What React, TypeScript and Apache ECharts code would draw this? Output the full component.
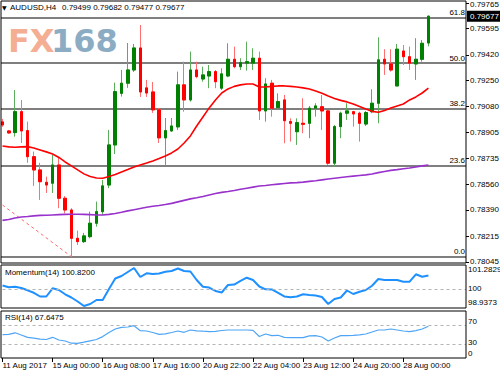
import React, { useEffect, useRef } from 'react';
import * as echarts from 'echarts';

// ---------- data ----------
const symbolName = 'AUDUSD,H4';
const xTickLabels = ['11 Aug 2017', '15 Aug 00:00', '16 Aug 08:00', '17 Aug 16:00', '20 Aug 22:00', '22 Aug 04:00', '23 Aug 12:00', '24 Aug 20:00', '28 Aug 00:00'];
const BARS_PER_LABEL = 8;
const TOTAL_SLOTS = 75; // bars + empty right shift of the chart

const opens = [0.78975, 0.78915, 0.78904, 0.79043, 0.78917, 0.78744, 0.78656, 0.78574, 0.78568, 0.78689, 0.78468, 0.7839, 0.78202, 0.7818, 0.78213, 0.78302, 0.78379, 0.78556, 0.78822, 0.79165, 0.79232, 0.7932, 0.79466, 0.79201, 0.79174, 0.79055, 0.78869, 0.78915, 0.78942, 0.79221, 0.79121, 0.7932, 0.7926, 0.7928, 0.79309, 0.79199, 0.7928, 0.79391, 0.79342, 0.79365, 0.79365, 0.79398, 0.79048, 0.79232, 0.7907, 0.79121, 0.78977, 0.7891, 0.78966, 0.78966, 0.79066, 0.79076, 0.79048, 0.78701, 0.78944, 0.79033, 0.79043, 0.79033, 0.78961, 0.79043, 0.79099, 0.79391, 0.7936, 0.79214, 0.79446, 0.79408, 0.7936, 0.79391, 0.79499];
const closes = [0.78955, 0.78902, 0.79043, 0.78915, 0.78744, 0.78656, 0.78578, 0.78556, 0.78689, 0.78468, 0.7839, 0.78202, 0.7818, 0.78218, 0.78302, 0.78379, 0.7855, 0.78822, 0.79176, 0.79232, 0.7932, 0.79466, 0.79174, 0.79167, 0.79055, 0.78869, 0.78917, 0.78948, 0.79221, 0.79121, 0.7932, 0.79276, 0.79287, 0.79309, 0.79242, 0.79294, 0.79391, 0.79342, 0.79369, 0.79375, 0.79398, 0.79048, 0.79227, 0.79066, 0.7911, 0.78983, 0.78966, 0.7897, 0.78959, 0.79066, 0.79081, 0.79048, 0.78701, 0.78944, 0.79033, 0.79048, 0.79028, 0.78966, 0.79037, 0.79099, 0.79387, 0.7936, 0.7932, 0.79458, 0.79408, 0.79365, 0.79391, 0.79497, 0.79677];
const highs = [0.78995, 0.78922, 0.79187, 0.79121, 0.78977, 0.78778, 0.78703, 0.78612, 0.78756, 0.78744, 0.78483, 0.78402, 0.78253, 0.78238, 0.78379, 0.78446, 0.7859, 0.78922, 0.79236, 0.7932, 0.79499, 0.79493, 0.79619, 0.79254, 0.7924, 0.79068, 0.79001, 0.79001, 0.79309, 0.79375, 0.79442, 0.79375, 0.79342, 0.79353, 0.7932, 0.79331, 0.79497, 0.79475, 0.79398, 0.79508, 0.79464, 0.79442, 0.79265, 0.79254, 0.79165, 0.79154, 0.78999, 0.78999, 0.79132, 0.79081, 0.79099, 0.79154, 0.79055, 0.78955, 0.79043, 0.79099, 0.79048, 0.79043, 0.79048, 0.79192, 0.79537, 0.79458, 0.79458, 0.79493, 0.79486, 0.79475, 0.79531, 0.79519, 0.79682];
const lows = [0.78942, 0.78895, 0.78877, 0.78835, 0.78703, 0.7855, 0.78457, 0.78503, 0.78503, 0.78402, 0.78368, 0.7808, 0.78158, 0.78171, 0.78202, 0.78279, 0.78357, 0.78535, 0.78762, 0.79143, 0.79201, 0.79307, 0.79141, 0.79141, 0.79035, 0.78835, 0.78689, 0.7891, 0.78922, 0.79043, 0.7911, 0.79265, 0.79242, 0.79199, 0.79199, 0.79187, 0.79272, 0.79331, 0.7932, 0.79316, 0.7932, 0.78988, 0.78977, 0.7901, 0.79055, 0.78833, 0.78844, 0.78822, 0.789, 0.78867, 0.7901, 0.78922, 0.78689, 0.78678, 0.78867, 0.78988, 0.78944, 0.78844, 0.78948, 0.79033, 0.78966, 0.79287, 0.79309, 0.79214, 0.79353, 0.7932, 0.79254, 0.79375, 0.79477];

const maRed = [0.78815, 0.78809, 0.78807, 0.78809, 0.78811, 0.78802, 0.78789, 0.78776, 0.78762, 0.78739, 0.78709, 0.78683, 0.78656, 0.7863, 0.78612, 0.78603, 0.78601, 0.78612, 0.78626, 0.78643, 0.78659, 0.78676, 0.78689, 0.78702, 0.78716, 0.78732, 0.78749, 0.78769, 0.78795, 0.78835, 0.78882, 0.78948, 0.79008, 0.79068, 0.79121, 0.79167, 0.79194, 0.79211, 0.79221, 0.79227, 0.79227, 0.79207, 0.79207, 0.79211, 0.79214, 0.79214, 0.79211, 0.79207, 0.79201, 0.79194, 0.79181, 0.79165, 0.79147, 0.79131, 0.79118, 0.79108, 0.79094, 0.79078, 0.79061, 0.79045, 0.79039, 0.79051, 0.79068, 0.79081, 0.79094, 0.79121, 0.79141, 0.79167, 0.79199];
const maPurple = [0.78321, 0.78327, 0.78337, 0.78344, 0.78347, 0.78351, 0.78354, 0.78355, 0.78357, 0.78359, 0.78361, 0.78362, 0.78362, 0.78361, 0.78359, 0.78357, 0.78357, 0.78361, 0.78367, 0.78375, 0.78384, 0.78392, 0.784, 0.78408, 0.78415, 0.7842, 0.78426, 0.78434, 0.78444, 0.78454, 0.78464, 0.78471, 0.7848, 0.7849, 0.78499, 0.78507, 0.78513, 0.7852, 0.78528, 0.78535, 0.78542, 0.78549, 0.78553, 0.78558, 0.78562, 0.78566, 0.7857, 0.78572, 0.78575, 0.7858, 0.78584, 0.7859, 0.78596, 0.78601, 0.78606, 0.78611, 0.78615, 0.78619, 0.78623, 0.78629, 0.78638, 0.78646, 0.78653, 0.78658, 0.78664, 0.78669, 0.78676, 0.78683, 0.78689];

const momentum = [100.203, 100.098, 100.129, 100.048, 99.906, 99.752, 99.524, 99.524, 100.03, 99.925, 99.66, 99.462, 99.215, 98.9373, 99.061, 99.308, 99.308, 99.987, 100.635, 100.789, 101.036, 101.2829, 100.727, 100.956, 100.913, 100.943, 101.048, 101.098, 101.252, 101.098, 101.067, 100.542, 100.129, 100.079, 99.863, 99.771, 100.234, 100.264, 100.481, 100.684, 100.542, 100.141, 99.968, 99.956, 99.74, 99.524, 99.474, 99.524, 99.66, 99.616, 99.585, 99.493, 99.061, 99.369, 99.462, 99.894, 99.678, 99.82, 99.925, 100.19, 100.604, 100.542, 100.542, 100.542, 100.437, 100.437, 100.894, 100.746, 100.82];
const rsi = [49.8, 50.4, 53.6, 48.9, 44.0, 42.3, 40.0, 39.4, 44.0, 38.3, 36.2, 31.5, 31.3, 33.6, 36.6, 39.4, 45.5, 54.3, 61.7, 65.3, 66.0, 68.7, 58.1, 57.5, 54.3, 50.4, 51.5, 54.3, 57.5, 54.7, 59.6, 57.9, 57.0, 56.2, 56.8, 58.5, 59.6, 59.6, 59.6, 59.6, 58.9, 45.8, 51.1, 47.5, 48.3, 44.0, 43.4, 43.2, 43.4, 47.2, 47.5, 44.7, 36.2, 42.6, 47.5, 47.5, 48.3, 49.4, 51.1, 55.3, 59.6, 59.6, 61.7, 59.6, 57.5, 56.0, 58.1, 61.7, 67.6475];

const priceTicks = [0.79765, 0.79595, 0.7942, 0.7925, 0.7908, 0.78905, 0.78735, 0.7856, 0.7839, 0.78215, 0.78045];
const priceRange = [0.78038, 0.79778];
const momentumTicks = [101.2829, 100, 98.9373];
const momentumRange = [98.8137, 101.468];
const momentumLevel = 100;
const rsiTicks = [100, 70, 30, 0];
const rsiLevels = [70, 30];
const fibLow = 0.7808;
const fibHigh = 0.8065;
const fibRatios = [0, 23.6, 38.2, 50, 61.8];
const trendStartPrice = 0.78423;
const trendEndIndex = 11;

// ---------- layout / style ----------
const FONT = '"Liberation Sans", Arial, sans-serif';
const FS = 8;
const PLOT_LEFT = 2.5;
const PLOT_RIGHT = 466;
const panes = [
  { top: 1, bottom: 263 },
  { top: 265, bottom: 308 },
  { top: 311, bottom: 358 },
];

export default function App() {
  const ref = useRef<HTMLDivElement>(null);

  useEffect(() => {
    if (!ref.current) return;
    const chart = echarts.init(ref.current, null, { renderer: 'svg' });

    const categories = Array.from({ length: TOTAL_SLOTS }, (_, i) => String(i));
    const isLabelIdx = (i: number) => i % BARS_PER_LABEL === 0 && i / BARS_PER_LABEL < xTickLabels.length;
    const n = opens.length;
    const fullCandles = opens.map((o, i) => [o, closes[i], lows[i], highs[i]]);
    const bodyOnly = opens.map((o, i) => [o, closes[i], Math.min(o, closes[i]), Math.max(o, closes[i])]);

    const baseText = { fontSize: FS, fontFamily: FONT, color: '#000' };

    const grids = panes.map((p) => ({
      left: PLOT_LEFT,
      top: p.top,
      width: PLOT_RIGHT - PLOT_LEFT,
      height: p.bottom - p.top,
      containLabel: false,
      outerBoundsMode: 'none',
    }));

    const xAxes = panes.map((_, gi) => ({
      type: 'category',
      gridIndex: gi,
      data: categories,
      boundaryGap: false,
      show: gi === 2,
      axisLine: { show: false },
      splitLine: { show: false },
      axisTick: {
        show: gi === 2,
        interval: (i: number) => isLabelIdx(i),
        length: 4,
        lineStyle: { color: '#000', width: 1 },
      },
      axisLabel: {
        show: gi === 2,
        interval: (i: number) => isLabelIdx(i),
        formatter: (_v: string, i: number) => (isLabelIdx(i) ? xTickLabels[i / BARS_PER_LABEL] : ''),
        align: 'left',
        margin: 3,
        ...baseText,
      },
    }));

    const richFor = (pad: number[]) => ({ ...baseText, padding: pad });

    const yAxes = [
      {
        type: 'value',
        gridIndex: 0,
        position: 'right',
        min: priceRange[0],
        max: priceRange[1],
        splitLine: { show: false },
        axisLine: { show: false },
        axisTick: { show: true, customValues: priceTicks, length: 3, lineStyle: { color: '#000' } },
        axisLabel: {
          customValues: priceTicks,
          formatter: (v: number) => (v === priceTicks[0] ? '{t|' + v.toFixed(5) + '}' : '{m|' + v.toFixed(5) + '}'),
          rich: { t: richFor([4, 0, 0, 0]), m: richFor([0, 0, 0, 0]) },
          margin: 4,
          ...baseText,
        },
      },
      {
        type: 'value',
        gridIndex: 1,
        position: 'right',
        min: momentumRange[0],
        max: momentumRange[1],
        splitLine: { show: false },
        axisLine: { show: false },
        axisTick: { show: false },
        axisLabel: {
          customValues: momentumTicks,
          margin: 2,
          formatter: (v: number) => {
            const key = Math.abs(v - momentumTicks[0]) < 1e-6 ? 't' : Math.abs(v - momentumTicks[2]) < 1e-6 ? 'b' : 'm';
            return '{' + key + '|' + String(v) + '}';
          },
          rich: { t: richFor([4, 0, 0, 0]), b: richFor([0, 0, 6, 0]), m: richFor([0, 0, 0, 0]) },
          ...baseText,
        },
      },
      {
        type: 'value',
        gridIndex: 2,
        position: 'right',
        min: 0,
        max: 100,
        splitLine: { show: false },
        axisLine: { show: false },
        axisTick: { show: false },
        axisLabel: {
          customValues: rsiTicks,
          margin: 2,
          formatter: (v: number) => {
            const key = v === 100 ? 't' : v === 70 ? 'u' : v === 0 ? 'b' : 'm';
            return '{' + key + '|' + String(v) + '}';
          },
          rich: {
            t: richFor([10, 0, 0, 0]),
            u: richFor([0, 0, 8, 0]),
            b: richFor([0, 0, 10, 0]),
            m: richFor([0, 0, 2, 0]),
          },
          ...baseText,
        },
      },
    ];

    const fibLines = fibRatios.map((r) => [
      { name: r.toFixed(1), coord: [0, fibLow + ((fibHigh - fibLow) * r) / 100], x: 1 },
      { coord: [TOTAL_SLOTS - 1, fibLow + ((fibHigh - fibLow) * r) / 100] },
    ]);

    const series: any[] = [
      {
        name: 'fibTrend',
        type: 'line',
        xAxisIndex: 0,
        yAxisIndex: 0,
        z: 1,
        data: [[0, trendStartPrice], [trendEndIndex, fibLow]],
        showSymbol: false,
        silent: true,
        lineStyle: { color: '#ff6a6a', width: 1, type: [3, 3] },
        markLine: {
          silent: true,
          z: 1,
          symbol: ['none', 'none'],
          lineStyle: { color: '#555', width: 1.5, type: 'solid' },
          label: {
            show: true,
            position: 'insideEndTop',
            formatter: (p: any) => p.name,
            distance: [1, 1],
            ...baseText,
          },
          data: fibLines,
        },
      },
      {
        name: 'wicks',
        type: 'candlestick',
        xAxisIndex: 0,
        yAxisIndex: 0,
        z: 2,
        data: fullCandles,
        barWidth: 3,
        clip: false,
        silent: true,
        itemStyle: {
          color: 'transparent',
          color0: 'transparent',
          borderColor: '#5aae5a',
          borderColor0: '#ff6f6f',
          borderWidth: 1,
        },
      },
      {
        name: 'bodies',
        type: 'candlestick',
        xAxisIndex: 0,
        yAxisIndex: 0,
        z: 3,
        data: bodyOnly,
        barWidth: 3,
        clip: false,
        silent: true,
        itemStyle: {
          color: '#008000',
          color0: '#ff0000',
          borderColor: '#008000',
          borderColor0: '#ff0000',
          borderWidth: 1,
        },
      },
      {
        name: 'MA red',
        type: 'line',
        xAxisIndex: 0,
        yAxisIndex: 0,
        data: maRed,
        showSymbol: false,
        silent: true,
        lineStyle: { color: '#ff0000', width: 1.6 },
        z: 4,
      },
      {
        name: 'MA purple',
        type: 'line',
        xAxisIndex: 0,
        yAxisIndex: 0,
        data: maPurple,
        showSymbol: false,
        silent: true,
        lineStyle: { color: '#9932cc', width: 1.6 },
        z: 4,
      },
      {
        name: 'Momentum(14)',
        type: 'line',
        xAxisIndex: 1,
        yAxisIndex: 1,
        data: momentum,
        showSymbol: false,
        silent: true,
        lineStyle: { color: '#1e90ff', width: 2 },
        markLine: {
          silent: true,
          symbol: ['none', 'none'],
          label: { show: false },
          lineStyle: { color: '#b4b4b4', width: 1, type: [3, 3] },
          data: [{ yAxis: momentumLevel }],
        },
      },
      {
        name: 'RSI(14)',
        type: 'line',
        xAxisIndex: 2,
        yAxisIndex: 2,
        data: rsi,
        showSymbol: false,
        silent: true,
        lineStyle: { color: '#4ea5f6', width: 1.2 },
        markLine: {
          silent: true,
          symbol: ['none', 'none'],
          label: { show: false },
          lineStyle: { color: '#b4b4b4', width: 1, type: [3, 3] },
          data: rsiLevels.map((l) => ({ yAxis: l })),
        },
      },
    ];

    const frames = panes.map((p, i) => ({
      type: 'rect',
      id: 'frame' + i,
      z: 100,
      silent: true,
      shape: { x: 1, y: p.top, width: PLOT_RIGHT - 1, height: p.bottom - p.top },
      style: { fill: 'none', stroke: '#000', lineWidth: 1 },
    }));

    const last = n - 1;
    const headerValues = [opens[last], highs[last], lows[last], closes[last]].map((v) => v.toFixed(5)).join(' ');

    const graphics: any[] = [
      {
        type: 'text', id: 'logoFX', z: 0, x: 8, y: 40.5, silent: true,
        style: { text: 'FX', fontSize: 32, fontWeight: 'bold', fontFamily: '"DejaVu Sans", sans-serif', fill: '#f4ae94', verticalAlign: 'middle' },
      },
      {
        type: 'text', id: 'logo168', z: 0, x: 51, y: 40.5, silent: true,
        style: { text: '168', fontSize: 32, fontWeight: 'bold', fontFamily: '"DejaVu Sans", sans-serif', fill: '#8cacc4', verticalAlign: 'middle' },
      },
      {
        type: 'text', id: 'hdrTri', z: 101, x: 2, y: 7.5, silent: true,
        style: { text: '▼', fontSize: 6, fontFamily: '"DejaVu Sans", sans-serif', fill: '#000', verticalAlign: 'middle' },
      },
      {
        type: 'text', id: 'hdrSym', z: 101, x: 10, y: 7.5, silent: true,
        style: { text: symbolName, fontSize: FS, fontFamily: FONT, fill: '#000', verticalAlign: 'middle' },
      },
      {
        type: 'text', id: 'hdrVals', z: 101, x: 62, y: 7.5, silent: true,
        style: { text: headerValues, fontSize: FS, fontFamily: FONT, fill: '#000', verticalAlign: 'middle' },
      },
      {
        type: 'text', id: 'momTitle', z: 101, x: 5, y: 272.5, silent: true,
        style: { text: 'Momentum(14) ' + momentum[last].toFixed(4), fontSize: FS, fontFamily: FONT, fill: '#000', verticalAlign: 'middle' },
      },
      {
        type: 'text', id: 'rsiTitle', z: 101, x: 5, y: 317.5, silent: true,
        style: { text: 'RSI(14) ' + rsi[last].toFixed(4), fontSize: FS, fontFamily: FONT, fill: '#000', verticalAlign: 'middle' },
      },
      ...frames,
    ];

    chart.setOption({
      animation: false,
      backgroundColor: '#ffffff',
      grid: grids,
      xAxis: xAxes,
      yAxis: yAxes,
      series,
      graphic: graphics,
    });

    const pt = chart.convertToPixel({ xAxisIndex: 0, yAxisIndex: 0 }, [last, closes[last]]) as number[];
    const tagY = pt[1];
    chart.setOption({
      graphic: [
        {
          type: 'rect', id: 'priceTagBox', z: 102, silent: true,
          shape: { x: PLOT_RIGHT + 1, y: tagY - 5.5, width: 33, height: 11 },
          style: { fill: '#000' },
        },
        {
          type: 'text', id: 'priceTagText', z: 103, x: PLOT_RIGHT + 4, y: tagY, silent: true,
          style: { text: closes[last].toFixed(5), fontSize: FS, fontFamily: FONT, fill: '#fff', verticalAlign: 'middle' },
        },
      ],
    });

    return () => chart.dispose();
  }, []);

  return (
    <div
      ref={ref}
      style={{ position: 'fixed', left: 0, top: 0, width: 500, height: 375, background: '#fff' }}
    />
  );
}
